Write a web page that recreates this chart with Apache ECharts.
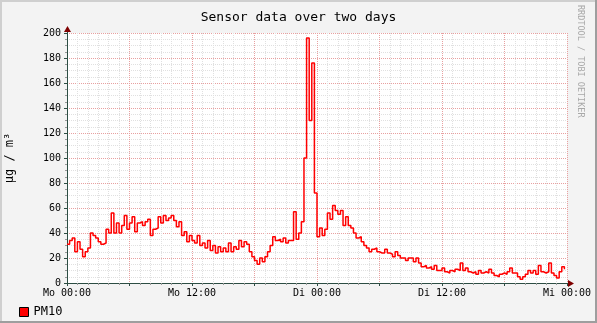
<!DOCTYPE html>
<html>
<head>
<meta charset="utf-8">
<script src="https://cdn.jsdelivr.net/npm/echarts@6/dist/echarts.min.js"></script>
<style>html,body{margin:0;padding:0;background:#f3f3f3}#c{width:597px;height:323px}</style>
</head>
<body>
<div id="c"></div>
<script>
// ---- data (15-minute samples, 48 hours) ----
const seriesName = 'PM10';
const stepHours = 0.25;
const pm10 = [
  // Mo 00:00 - ~09:45
  31,34,36,25,33,27,21,25,28,40,38,36,33,31,32,43,40,56,40,48,40,46,54,43,48,53,41,48,49,46,49,51,38,43,44,53,48,54,50,
  // ~09:45 - ~19:15
  52,54,50,45,49,38,41,33,38,34,32,38,30,32,28,34,26,30,24,29,25,28,25,32,25,29,27,34,29,33,31,25,21,18,15,20,17,21,25,
  // ~19:30 - ~04:30
  30,37,34,35,33,36,32,34,34,57,35,40,49,100,196,130,176,72,37,44,38,43,56,51,62,58,55,58,46,53,46,44,40,36,37,33,30,
  // ~04:45 - ~14:15
  28,25,27,28,25,24,24,27,24,23,21,25,22,20,20,18,20,20,17,20,16,13,14,12,13,11,14,10,10,12,9,8,10,9,11,10,16,10,12,
  // ~14:30 - Mi 00:00
  9,8,9,7,10,8,9,8,11,8,6,5,7,8,7,9,12,8,8,5,3,5,7,10,8,10,7,14,9,8,9,16,8,6,4,9,13,11
];
const xTickHours = [0, 12, 24, 36, 48];
const xTickLabels = ['Mo 00:00', 'Mo 12:00', 'Di 00:00', 'Di 12:00', 'Mi 00:00'];
const titleText = 'Sensor data over two days';
const yAxisTitle = 'µg / m³';
const watermark = 'RRDTOOL / TOBI OETIKER';

const MONO = 'DejaVu Sans Mono';
const chart = echarts.init(document.getElementById('c'), null, {renderer: 'canvas'});
const data = pm10.map((v, i) => [i * stepHours, v]);

const option = {
  animation: false,
  backgroundColor: '#f3f3f3',
  title: {
    text: titleText, left: 'center', top: 6,
    textStyle: {fontFamily: MONO, fontSize: 13, fontWeight: 'normal', color: '#000'}
  },
  legend: {
    left: 14, top: 301, itemWidth: 9, itemHeight: 9, itemGap: 10,
    data: [{name: seriesName, icon: 'rect'}],
    itemStyle: {borderColor: '#000', borderWidth: 1},
    textStyle: {fontFamily: MONO, fontSize: 12, color: '#000'}
  },
  grid: {left: 67, right: 30, top: 33, bottom: 40, show: true, backgroundColor: '#fff', borderWidth: 0,
         containLabel: false, outerBoundsMode: 'none'},
  xAxis: {
    type: 'value', min: 0, max: 48, interval: 6,
    axisLine: {show: true, lineStyle: {color: '#2c4d43', width: 1}},
    axisTick: {show: true, length: 3, lineStyle: {color: '#2c4d43'}},
    minorTick: {show: true, splitNumber: 6, length: 2, lineStyle: {color: '#999'}},
    axisLabel: {
      margin: 5, fontFamily: MONO, fontSize: 10, color: '#000', showMinLabel: true, showMaxLabel: true,
      formatter: v => { const k = xTickHours.indexOf(v); return k >= 0 ? xTickLabels[k] : ''; }
    },
    splitLine: {show: true, lineStyle: {color: '#e8a0a0', type: [1, 1], width: 1}},
    minorSplitLine: {show: true, lineStyle: {color: '#e0e0e0', type: [1, 1], width: 1}}
  },
  yAxis: {
    type: 'value', min: 0, max: 200, interval: 20,
    name: yAxisTitle, nameLocation: 'middle', nameGap: 51, nameRotate: 90,
    nameTextStyle: {fontFamily: MONO, fontSize: 12, color: '#000'},
    axisLine: {show: true, lineStyle: {color: '#2c4d43', width: 1}},
    axisTick: {show: true, length: 3, lineStyle: {color: '#2c4d43'}},
    minorTick: {show: true, splitNumber: 4, length: 2, lineStyle: {color: '#999'}},
    axisLabel: {margin: 6, fontFamily: MONO, fontSize: 10, color: '#000'},
    splitLine: {show: true, lineStyle: {color: '#e8a0a0', type: [1, 1], width: 1}},
    minorSplitLine: {show: true, lineStyle: {color: '#e0e0e0', type: [1, 1], width: 1}}
  },
  series: [{
    name: seriesName, type: 'line', step: 'end', data: data,
    showSymbol: false, symbol: 'none',
    lineStyle: {color: '#ff0000', width: 1.5},
    itemStyle: {color: '#ff0000'},
    z: 5
  }]
};
chart.setOption(option);

// decorations: frame shading, arrows, watermark
const W = chart.getWidth(), H = chart.getHeight();
const px0 = chart.convertToPixel({xAxisIndex: 0}, 0);
const px1 = chart.convertToPixel({xAxisIndex: 0}, 48);
const py0 = chart.convertToPixel({yAxisIndex: 0}, 0);
const py1 = chart.convertToPixel({yAxisIndex: 0}, 200);
chart.setOption({
  graphic: [
    {type: 'rect', shape: {x: 0, y: 0, width: W, height: 2}, style: {fill: '#cfcfcf'}, silent: true},
    {type: 'rect', shape: {x: 0, y: 0, width: 2, height: H}, style: {fill: '#cfcfcf'}, silent: true},
    {type: 'rect', shape: {x: W - 2, y: 0, width: 2, height: H}, style: {fill: '#9e9e9e'}, silent: true},
    {type: 'rect', shape: {x: 0, y: H - 2, width: W, height: 2}, style: {fill: '#9e9e9e'}, silent: true},
    {type: 'line', shape: {x1: px1, y1: py0 + 0.5, x2: px1 + 3, y2: py0 + 0.5}, style: {stroke: '#2c4d43', lineWidth: 1}, z: 10},
    {type: 'line', shape: {x1: px0 + 0.5, y1: py1, x2: px0 + 0.5, y2: py1 - 3}, style: {stroke: '#2c4d43', lineWidth: 1}, z: 10},
    {type: 'polygon', shape: {points: [[px1 + 1, py0 - 3], [px1 + 7, py0 + 0.5], [px1 + 1, py0 + 4]]}, style: {fill: '#7f0000'}, z: 10},
    {type: 'polygon', shape: {points: [[px0 - 3, py1 - 1], [px0 + 0.5, py1 - 7], [px0 + 4, py1 - 1]]}, style: {fill: '#7f0000'}, z: 10},
    {type: 'text', x: W - 12, y: 5, rotation: -Math.PI / 2,
     style: {text: watermark, fontFamily: MONO, fontSize: 8.5, fill: '#a8a8a8', textAlign: 'left', textVerticalAlign: 'top'}, z: 10}
  ]
});
</script>
</body>
</html>
